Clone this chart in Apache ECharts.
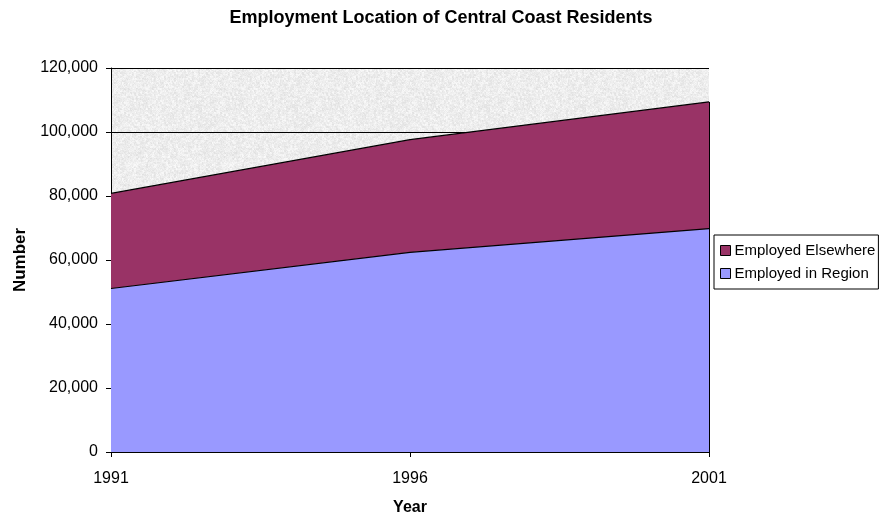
<!DOCTYPE html>
<html>
<head>
<meta charset="utf-8">
<script src="https://cdn.jsdelivr.net/npm/echarts@6/dist/echarts.min.js"></script>
<style>
  html, body { margin: 0; padding: 0; background: #fff; }
  #chart { width: 883px; height: 521px; }
</style>
</head>
<body>
<div id="chart"></div>
<script>
// Census years and employment counts (persons)
const years = ['1991', '1996', '2001'];
const employedInRegion = [51100, 62400, 69800];
const employedElsewhere = [29700, 35200, 39600];
const yTicks = [0, 20000, 40000, 60000, 80000, 100000, 120000];

const font = 'Arial, "Liberation Sans", sans-serif';

// Light grey granite fill for the plot area, built from a small hashed tile
function graniteTile() {
  const size = 96;
  const c = document.createElement('canvas');
  c.width = size; c.height = size;
  const ctx = c.getContext('2d');
  const img = ctx.createImageData(size, size);
  const hash = (x, y) => {
    let h = (x * 374761393 + y * 668265263) | 0;
    h = (h ^ (h >>> 13)) * 1274126177 | 0;
    return ((h ^ (h >>> 16)) >>> 0) / 4294967295;
  };
  for (let y = 0; y < size; y++) {
    for (let x = 0; x < size; x++) {
      // mix fine grain with coarser speckle
      const fine = hash(x, y);
      const coarse = hash(x >> 1, y >> 1);
      let v = 237 + (fine - 0.5) * 14 + (coarse - 0.5) * 14;
      v = Math.max(205, Math.min(250, v));
      const i = (y * size + x) * 4;
      img.data[i] = img.data[i + 1] = img.data[i + 2] = v;
      img.data[i + 3] = 255;
    }
  }
  ctx.putImageData(img, 0, 0);
  return c;
}

const totals = years.map((_, i) => employedInRegion[i] + employedElsewhere[i]);
const lastYear = years[years.length - 1];

const chart = echarts.init(document.getElementById('chart'), null, { renderer: 'canvas' });

chart.setOption({
  animation: false,
  backgroundColor: '#ffffff',
  title: {
    text: 'Employment Location of Central Coast Residents',
    left: 441, top: 9, textAlign: 'center', padding: 0,
    textStyle: { fontFamily: font, fontSize: 18, fontWeight: 'bold', color: '#000' }
  },
  grid: {
    left: 111, right: 174, top: 68, bottom: 65,
    show: true, borderWidth: 0,
    backgroundColor: { image: graniteTile(), repeat: 'repeat' }
  },
  legend: {
    orient: 'vertical', left: 714, top: 235,
    data: ['Employed Elsewhere', 'Employed in Region'],
    itemWidth: 10, itemHeight: 10, itemGap: 8,
    padding: [8, 3, 8, 6],
    borderColor: '#000', borderWidth: 1,
    backgroundColor: '#fff',
    icon: 'rect',
    itemStyle: { borderColor: '#000', borderWidth: 1 },
    textStyle: { fontFamily: font, fontSize: 15, lineHeight: 15, color: '#000', padding: [0, 0, 0, -1] }
  },
  xAxis: {
    type: 'category', data: years, boundaryGap: false,
    name: 'Year', nameLocation: 'middle', nameGap: 48,
    nameTextStyle: { fontFamily: font, fontSize: 16, fontWeight: 'bold', color: '#000' },
    axisLine: { lineStyle: { color: '#000', width: 1 } },
    axisTick: { show: true, length: 5, lineStyle: { color: '#000' } },
    axisLabel: { fontFamily: font, fontSize: 16, color: '#000', margin: 19 },
    splitLine: { show: false }
  },
  yAxis: {
    type: 'value', min: yTicks[0], max: yTicks[yTicks.length - 1], interval: 20000,
    name: 'Number', nameLocation: 'middle', nameGap: 80, nameRotate: 90,
    nameTextStyle: { fontFamily: font, fontSize: 17, fontWeight: 'bold', color: '#000' },
    axisLine: { show: true, lineStyle: { color: '#000', width: 1 } },
    axisTick: { show: true, length: 5, lineStyle: { color: '#000' } },
    axisLabel: {
      fontFamily: font, fontSize: 16, color: '#000', margin: 13,
      formatter: v => v.toLocaleString('en-US')
    },
    splitLine: { show: true, lineStyle: { color: '#000', width: 1 } }
  },
  series: [
    {
      name: 'Employed in Region', type: 'line', stack: 'total',
      data: employedInRegion, symbol: 'none',
      lineStyle: { color: '#000', width: 1.2 },
      itemStyle: { color: '#9999ff', borderColor: '#000', borderWidth: 1 },
      areaStyle: { color: '#9999ff', opacity: 1 }
    },
    {
      name: 'Employed Elsewhere', type: 'line', stack: 'total',
      data: employedElsewhere, symbol: 'none',
      lineStyle: { color: '#000', width: 1.2 },
      itemStyle: { color: '#993366', borderColor: '#000', borderWidth: 1 },
      areaStyle: { color: '#993366', opacity: 1 },
      // closing edge of the stacked area at the last year
      markLine: {
        silent: true, symbol: 'none', label: { show: false },
        lineStyle: { color: '#000', width: 1, type: 'solid' },
        data: [[
          { coord: [lastYear, 0] },
          { coord: [lastYear, totals[totals.length - 1]] }
        ]]
      }
    }
  ]
});
</script>
</body>
</html>
